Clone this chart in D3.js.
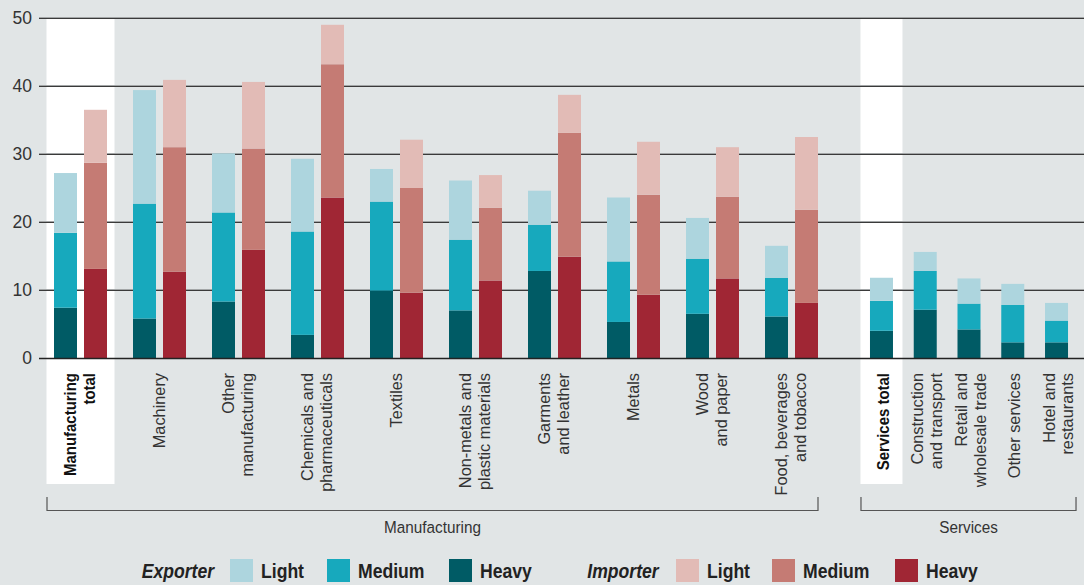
<!DOCTYPE html>
<html><head><meta charset="utf-8">
<script src="https://cdn.jsdelivr.net/npm/d3@7"></script>
<style>
html,body{margin:0;padding:0;background:#e1e5e6;}
svg{display:block;font-family:'Liberation Sans',Arial,Helvetica,sans-serif;}
</style>
</head><body>
<svg id="chart" width="1084" height="585"></svg>
<script>
// ---------------- DATA ----------------
const manufacturingCategories = ["Manufacturing total","Machinery","Other manufacturing","Chemicals and pharmaceuticals","Textiles","Non-metals and plastic materials","Garments and leather","Metals","Wood and paper","Food, beverages and tobacco"];
const manufacturingLabelLines = [["Manufacturing","total"],["Machinery"],["Other","manufacturing"],["Chemicals and","pharmaceuticals"],["Textiles"],["Non-metals and","plastic materials"],["Garments","and leather"],["Metals"],["Wood","and paper"],["Food, beverages","and tobacco"]];
const servicesCategories = ["Services total","Construction and transport","Retail and wholesale trade","Other services","Hotel and restaurants"];
const servicesLabelLines = [["Services total"],["Construction","and transport"],["Retail and","wholesale trade"],["Other services"],["Hotel and","restaurants"]];
const highlightedCategories = ["Manufacturing total","Services total"];
const groupLabels = ["Manufacturing","Services"];
const traders = ["Exporter","Importer"];
const intensityLevels = ["Heavy","Medium","Light"];
const legendLevels = ["Light","Medium","Heavy"];

const exporterHeavyManu  = [7.4, 5.8, 8.3, 3.4, 9.9, 7.0, 12.8, 5.3, 6.5, 6.1];
const exporterMediumManu = [11.0,16.9,13.1,15.2,13.1,10.4, 6.8, 8.9, 8.1, 5.7];
const exporterLightManu  = [8.8,16.7, 8.7,10.7, 4.8, 8.7, 5.0, 9.4, 6.0, 4.7];
const importerHeavyManu  = [13.1,12.7,15.9,23.6, 9.6,11.4,14.9, 9.3,11.7, 8.1];
const importerMediumManu = [15.6,18.3,14.9,19.6,15.4,10.7,18.2,14.7,12.0,13.7];
const importerLightManu  = [7.8, 9.9, 9.8, 5.8, 7.1, 4.8, 5.6, 7.8, 7.3,10.7];
const exporterHeavyServ  = [4.0, 7.1, 4.2, 2.3, 2.3];
const exporterMediumServ = [4.4, 5.7, 3.8, 5.5, 3.2];
const exporterLightServ  = [3.4, 2.8, 3.7, 3.1, 2.6];
const yTicks = [0,10,20,30,40,50];

// ---------------- STYLE ----------------
const colors = {
  Exporter: {Light:"#add5de", Medium:"#17a9bd", Heavy:"#005b65"},
  Importer: {Light:"#e2bbb6", Medium:"#c57b74", Heavy:"#a02634"}
};
const BG = "#e1e5e6";

const svg = d3.select("#chart");
svg.append("rect").attr("width",1084).attr("height",585).attr("fill",BG);

// ---------------- SCALES ----------------
const y = d3.scaleLinear().domain([0,50]).range([358,18]);
const xManu = d3.scaleBand().domain(manufacturingCategories).range([41,831]);
const xSub = d3.scaleBand().domain(traders).range([-26.5,26.5]).paddingInner(0.2333);
const xServ = d3.scaleBand().domain(servicesCategories).range([859.6,1078.4]);
const barW = xSub.bandwidth();
const cManu = c => xManu(c) + xManu.bandwidth()/2;
const cServ = c => xServ(c) + xServ.bandwidth()/2;

// ---------------- HIGHLIGHT BANDS ----------------
svg.append("rect").attr("x", cManu(highlightedCategories[0]) - 34).attr("y", y(50))
  .attr("width", 68).attr("height", 484 - y(50)).attr("fill","#ffffff");
svg.append("rect").attr("x", cServ(highlightedCategories[1]) - 21).attr("y", y(50))
  .attr("width", 42).attr("height", 484 - y(50)).attr("fill","#ffffff");

// ---------------- GRID ----------------
const grid = svg.append("g");
yTicks.filter(t => t > 0).forEach(t => {
  grid.append("line").attr("x1",39).attr("x2",1084).attr("y1",Math.round(y(t))-0.5).attr("y2",Math.round(y(t))-0.5)
    .attr("stroke","#a3a6a7").attr("stroke-width",1);
  grid.append("line").attr("x1",39).attr("x2",1084).attr("y1",Math.round(y(t))+0.5).attr("y2",Math.round(y(t))+0.5)
    .attr("stroke","#3a3a3a").attr("stroke-width",1.2);
});
grid.selectAll("text.tick").data(yTicks).join("text")
  .attr("x",32).attr("y",t => y(t)+6).attr("text-anchor","end")
  .attr("font-size",17.5).attr("fill","#333").text(t => t);

// ---------------- BARS ----------------
function buildRows(cats, arrs) {
  return cats.map((c,i) => ({cat:c, Heavy:arrs[0][i], Medium:arrs[1][i], Light:arrs[2][i]}));
}
const stack = d3.stack().keys(intensityLevels);
const manuExp = stack(buildRows(manufacturingCategories,[exporterHeavyManu,exporterMediumManu,exporterLightManu]));
const manuImp = stack(buildRows(manufacturingCategories,[importerHeavyManu,importerMediumManu,importerLightManu]));
const servExp = stack(buildRows(servicesCategories,[exporterHeavyServ,exporterMediumServ,exporterLightServ]));

const bars = svg.append("g");
function drawStack(series, trader, xPos) {
  series.forEach(s => {
    bars.append("g").attr("fill", colors[trader][s.key])
      .selectAll("rect").data(s).join("rect")
      .attr("x", d => xPos(d.data.cat))
      .attr("y", d => y(d[1]))
      .attr("width", barW)
      .attr("height", d => y(d[0]) - y(d[1]));
  });
}
drawStack(manuExp, "Exporter", c => cManu(c) + xSub("Exporter"));
drawStack(manuImp, "Importer", c => cManu(c) + xSub("Importer"));
drawStack(servExp, "Exporter", c => cServ(c) - barW/2);

// baseline
svg.append("line").attr("x1",39).attr("x2",1084).attr("y1",y(0)+0.5).attr("y2",y(0)+0.5)
  .attr("stroke","#222").attr("stroke-width",1.3);

// ---------------- CATEGORY LABELS ----------------
function addText(parent, x, yy, txt, opts) {
  const o = Object.assign({size:17, weight:"normal", style:"normal", anchor:"start", sx:1, rot:0, fill:"#333"}, opts||{});
  return parent.append("text")
    .attr("transform", `translate(${x},${yy}) rotate(${o.rot}) scale(${o.sx},1)`)
    .attr("font-size", o.size).attr("font-weight", o.weight).attr("font-style", o.style)
    .attr("text-anchor", o.anchor).attr("fill", o.fill).text(txt);
}
const labels = svg.append("g");
function drawCatLabels(cats, lines, centerFn, offset, ls) {
  cats.forEach((c,i) => {
    const ln = lines[i];
    const bold = highlightedCategories.includes(c);
    ln.forEach((t,j) => {
      const bx = centerFn(c) + offset + (j - (ln.length-1)/2) * ls;
      addText(labels, bx, 373, t, {rot:-90, anchor:"end", size:17,
        weight: bold ? "bold" : "normal", sx: bold ? 0.88 : 0.96, fill: bold ? "#111" : "#333"});
    });
  });
}
drawCatLabels(manufacturingCategories, manufacturingLabelLines, cManu, 5, 19);
drawCatLabels(servicesCategories, servicesLabelLines, cServ, 7.5, 18.5);

// ---------------- BRACKETS ----------------
const br = svg.append("g").attr("fill","none").attr("stroke","#555").attr("stroke-width",1.2);
const manuL = cManu(highlightedCategories[0]) - 34 + 0.5;
const manuR = cManu(manufacturingCategories[manufacturingCategories.length-1]) + xSub("Importer") + barW;
const servL = cServ(highlightedCategories[1]) - 21 + 0.5;
const servR = cServ(servicesCategories[servicesCategories.length-1]) + 19.5;
[[manuL,manuR],[servL,servR]].forEach(([a,b],i) => {
  br.append("path").attr("d", `M${a},497 V510.5 H${b} V497`);
  addText(svg, (a+b)/2, 533.3, groupLabels[i], {anchor:"middle", size:17, sx:0.9, fill:"#333"});
});

// ---------------- LEGEND ----------------
const lg = svg.append("g");
const legendLayout = [
  {trader:"Exporter", tx:141.7, sw:[230,327,449]},
  {trader:"Importer", tx:587.3, sw:[676,772,895]}
];
legendLayout.forEach(L => {
  addText(lg, L.tx, 578.3, L.trader, {size:20, weight:"bold", style:"italic", sx:0.88, fill:"#222"});
  legendLevels.forEach((lev,k) => {
    lg.append("rect").attr("x", L.sw[k]).attr("y",559).attr("width",23).attr("height",23)
      .attr("fill", colors[L.trader][lev]);
    addText(lg, L.sw[k] + 31, 578.3, lev, {size:20, weight:"bold", sx:0.88, fill:"#222"});
  });
});
</script>
</body></html>
